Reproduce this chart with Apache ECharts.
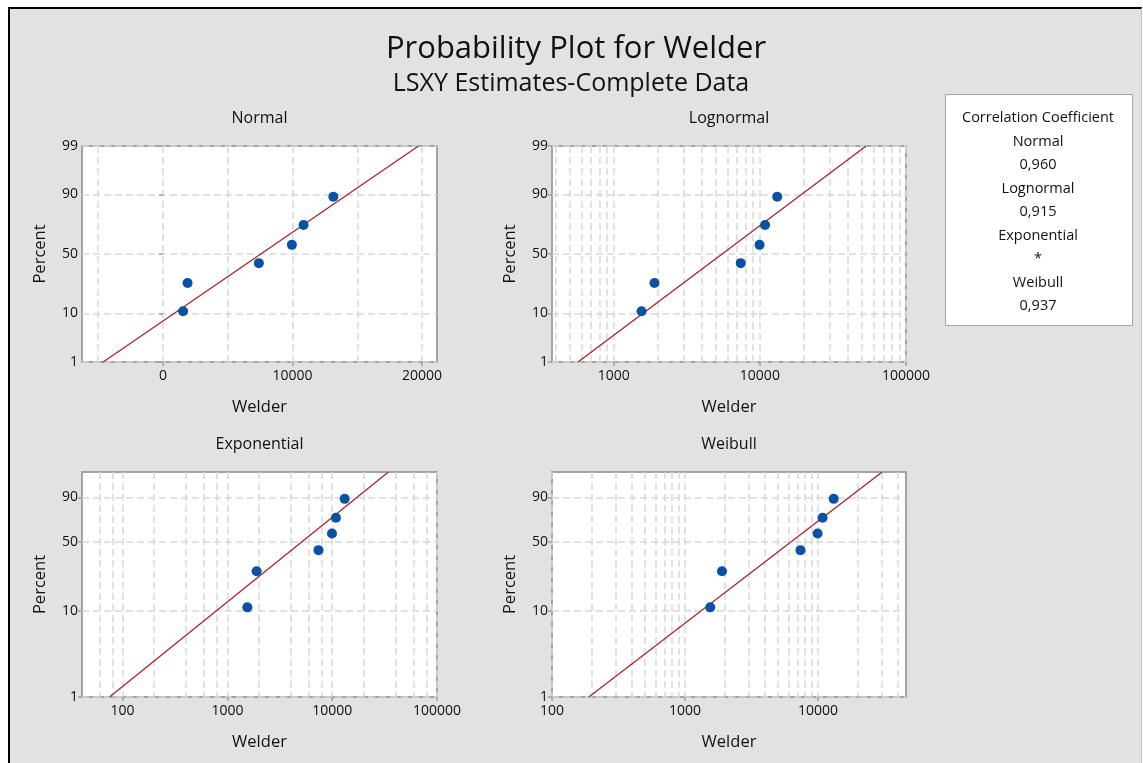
<!DOCTYPE html>
<html>
<head>
<meta charset="utf-8">
<script src="https://cdn.jsdelivr.net/npm/echarts@6/dist/echarts.min.js"></script>
<style>
  html, body { margin: 0; padding: 0; background: #ffffff; width: 1143px; height: 763px; overflow: hidden; }
  #frame { position: absolute; left: 8px; top: 7px; width: 1131px; height: 760px; background: #e2e2e2;
           border-top: 2px solid #000; border-left: 2px solid #000; border-right: 1px solid #c2c2c2; }
  #chart { position: absolute; left: 0; top: 0; width: 1143px; height: 763px; }
</style>
</head>
<body>
<div id="frame"></div>
<div id="chart"></div>
<script>
// Welder failure data (sorted) and median-rank plotting positions (%)
const welderValues = [1550, 1900, 7400, 9950, 10850, 13150];
const plotPercents = [10.9, 26.6, 42.2, 57.8, 73.4, 89.1];

const panelTitles = ['Normal', 'Lognormal', 'Exponential', 'Weibull'];

// LSXY fitted parameters
const normalFit = [7550, 5230];        // mean, standard deviation
const lognormalFit = [3.7415, 0.4237]; // location, scale of log10(Welder)
const exponentialFit = [7467];         // mean
const weibullFit = [1.206, 8577];      // shape, scale
const fitPercentEnds = [1, 99];

// Axis ticks
const normalPercentTicks = [1, 10, 50, 90, 99];
const weibullPercentTicks = [1, 10, 50, 90];
const normalXGrid = [-5000, 0, 5000, 10000, 15000, 20000];
const normalXLabels = [0, 10000, 20000];
const lognormalXLabels = [1000, 10000, 100000];
const exponentialXLabels = [100, 1000, 10000, 100000];
const weibullXLabels = [100, 1000, 10000];
const allMultipliers = [1, 2, 3, 4, 5, 6, 7, 8, 9];
const evenMultipliers = [1, 2, 4, 6, 8];

// Correlation coefficient table
const corrNames = ['Normal', 'Lognormal', 'Exponential', 'Weibull'];
const corrValues = ['0,960', '0,915', '*', '0,937'];

const FONT = "'Open Sans', 'Noto Sans', sans-serif";
const TEXT = '#111111';

// Inverse standard normal CDF (Acklam)
function probit(p) {
  const a = [-3.969683028665376e+01, 2.209460984245205e+02, -2.759285104469687e+02, 1.383577518672690e+02, -3.066479806614716e+01, 2.506628277459239e+00];
  const b = [-5.447609879822406e+01, 1.615858368580409e+02, -1.556989798598866e+02, 6.680131188771972e+01, -1.328068155288572e+01];
  const c = [-7.784894002430293e-03, -3.223964580411365e-01, -2.400758277161838e+00, -2.549732539343734e+00, 4.374664141464968e+00, 2.938163982698783e+00];
  const d = [7.784695709041462e-03, 3.224671290700398e-01, 2.445134137142996e+00, 3.754408661907416e+00];
  const pl = 0.02425, ph = 1 - pl;
  let q, r;
  if (p < pl) {
    q = Math.sqrt(-2 * Math.log(p));
    return (((((c[0]*q + c[1])*q + c[2])*q + c[3])*q + c[4])*q + c[5]) / ((((d[0]*q + d[1])*q + d[2])*q + d[3])*q + 1);
  }
  if (p <= ph) {
    q = p - 0.5; r = q * q;
    return (((((a[0]*r + a[1])*r + a[2])*r + a[3])*r + a[4])*r + a[5])*q / (((((b[0]*r + b[1])*r + b[2])*r + b[3])*r + b[4])*r + 1);
  }
  q = Math.sqrt(-2 * Math.log(1 - p));
  return -(((((c[0]*q + c[1])*q + c[2])*q + c[3])*q + c[4])*q + c[5]) / ((((d[0]*q + d[1])*q + d[2])*q + d[3])*q + 1);
}
// Probability-paper coordinates for a percent value
const normalScore = pct => probit(pct / 100);
const weibullScore = pct => Math.log(-Math.log(1 - pct / 100));

function logGrid(min, max, mults) {
  const out = [];
  for (let e = Math.floor(Math.log10(min)); e <= Math.ceil(Math.log10(max)); e++) {
    mults.forEach(m => { const v = m * Math.pow(10, e); if (v >= min * 0.999 && v <= max * 1.001) out.push(v); });
  }
  return out;
}

const panels = [
  { title: panelTitles[0], left: 82, top: 146, width: 355, height: 216, xType: 'value', xMin: -6250, xMax: 21150,
    xGrid: normalXGrid, xLabels: normalXLabels, score: normalScore, yTicks: normalPercentTicks,
    fitX: p => normalFit[0] + normalFit[1] * probit(p / 100) },
  { title: panelTitles[1], left: 552, top: 146, width: 354, height: 216, xType: 'log', xMin: 378, xMax: 100000,
    xGrid: logGrid(378, 100000, allMultipliers), xLabels: lognormalXLabels, score: normalScore, yTicks: normalPercentTicks,
    fitX: p => Math.pow(10, lognormalFit[0] + lognormalFit[1] * probit(p / 100)) },
  { title: panelTitles[2], left: 82, top: 472, width: 355, height: 225, xType: 'log', xMin: 41, xMax: 100000,
    xGrid: logGrid(41, 100000, evenMultipliers), xLabels: exponentialXLabels, score: weibullScore, yTicks: weibullPercentTicks,
    fitX: p => exponentialFit[0] * (-Math.log(1 - p / 100)) },
  { title: panelTitles[3], left: 552, top: 472, width: 354, height: 225, xType: 'log', xMin: 100, xMax: 46000,
    xGrid: logGrid(100, 46000, allMultipliers), xLabels: weibullXLabels, score: weibullScore, yTicks: weibullPercentTicks,
    fitX: p => weibullFit[1] * Math.pow(-Math.log(1 - p / 100), 1 / weibullFit[0]) }
];

const gridDash = { type: [7, 4], color: '#d7d7d7', width: 1.5 };
const tickLine = { color: '#a0a0a0', width: 1.5 };
const labelStyle = { fontFamily: FONT, fontSize: 14, color: TEXT };
const nameStyle = { fontFamily: FONT, fontSize: 16.5, color: TEXT };

const grids = [], xAxes = [], yAxes = [], series = [], graphics = [];

panels.forEach((pn, i) => {
  grids.push({ left: pn.left, top: pn.top, width: pn.width, height: pn.height, show: true,
    backgroundColor: '#ffffff', borderColor: '#a3a3a3', borderWidth: 2, containLabel: false });

  xAxes.push({
    gridIndex: i, type: pn.xType, min: pn.xMin, max: pn.xMax, position: 'bottom',
    name: 'Welder', nameLocation: 'middle', nameGap: 37, nameTextStyle: nameStyle,
    axisLine: { show: false },
    axisTick: { show: false, customValues: pn.xGrid },
    axisLabel: { customValues: pn.xLabels, margin: 7, ...labelStyle, formatter: v => String(Math.round(v)) },
    splitLine: { show: true, lineStyle: gridDash },
    minorSplitLine: { show: false }
  });

  const yScores = pn.yTicks.map(pn.score);
  yAxes.push({
    gridIndex: i, type: 'value', min: pn.score(1), max: pn.score(99),
    name: 'Percent', nameLocation: 'middle', nameGap: 33, nameRotate: 90, nameTextStyle: nameStyle,
    axisLine: { show: false },
    axisTick: { show: true, length: 4, customValues: yScores, lineStyle: tickLine },
    axisLabel: { customValues: yScores, margin: 4, ...labelStyle,
      formatter: v => { const k = yScores.findIndex(s => Math.abs(s - v) < 1e-6); return k >= 0 ? String(pn.yTicks[k]) : ''; } },
    splitLine: { show: true, lineStyle: gridDash }
  });

  series.push({
    type: 'line', xAxisIndex: i, yAxisIndex: i, z: 2, showSymbol: false, silent: true,
    lineStyle: { color: '#aa2226', width: 1.3 },
    data: fitPercentEnds.map(p => [pn.fitX(p), pn.score(p)])
  });
  series.push({
    type: 'scatter', xAxisIndex: i, yAxisIndex: i, z: 3, symbol: 'circle', symbolSize: 10,
    itemStyle: { color: '#0652a5', opacity: 1 },
    data: welderValues.map((v, k) => [v, pn.score(plotPercents[k])])
  });

  graphics.push({ type: 'text', x: pn.left + pn.width / 2, y: pn.top - 28,
    style: { text: pn.title, fontFamily: FONT, fontSize: 16, fill: TEXT, textAlign: 'center', textVerticalAlign: 'middle' } });
});

// Second x axis per panel: tick marks at the labelled values only
panels.forEach((pn, i) => {
  xAxes.push({
    gridIndex: i, type: pn.xType, min: pn.xMin, max: pn.xMax, position: 'bottom',
    axisLine: { show: false }, axisLabel: { show: false }, splitLine: { show: false },
    axisTick: { show: true, length: 4, customValues: pn.xLabels, lineStyle: tickLine }
  });
});

// Titles
graphics.push({ type: 'text', x: 576, y: 49,
  style: { text: 'Probability Plot for Welder', fontFamily: FONT, fontSize: 31, fill: TEXT, textAlign: 'center', textVerticalAlign: 'middle' } });
graphics.push({ type: 'text', x: 571, y: 84,
  style: { text: 'LSXY Estimates-Complete Data', fontFamily: FONT, fontSize: 25, fill: TEXT, textAlign: 'center', textVerticalAlign: 'middle' } });

// Correlation coefficient box
const boxLines = ['Correlation Coefficient'];
corrNames.forEach((n, k) => { boxLines.push(n); boxLines.push(corrValues[k]); });
graphics.push({ type: 'rect', shape: { x: 945.5, y: 94.5, width: 187, height: 231 },
  style: { fill: '#ffffff', stroke: '#a3a3a3', lineWidth: 1 } });
boxLines.forEach((t, k) => {
  graphics.push({ type: 'text', x: 1038, y: 118 + k * 23.5,
    style: { text: t, fontFamily: FONT, fontSize: 14.5, fill: TEXT, textAlign: 'center', textVerticalAlign: 'middle' } });
});

const chart = echarts.init(document.getElementById('chart'), null, { renderer: 'canvas' });
chart.setOption({
  animation: false,
  backgroundColor: 'transparent',
  grid: grids,
  xAxis: xAxes,
  yAxis: yAxes,
  series: series,
  graphic: graphics
});
</script>
</body>
</html>
